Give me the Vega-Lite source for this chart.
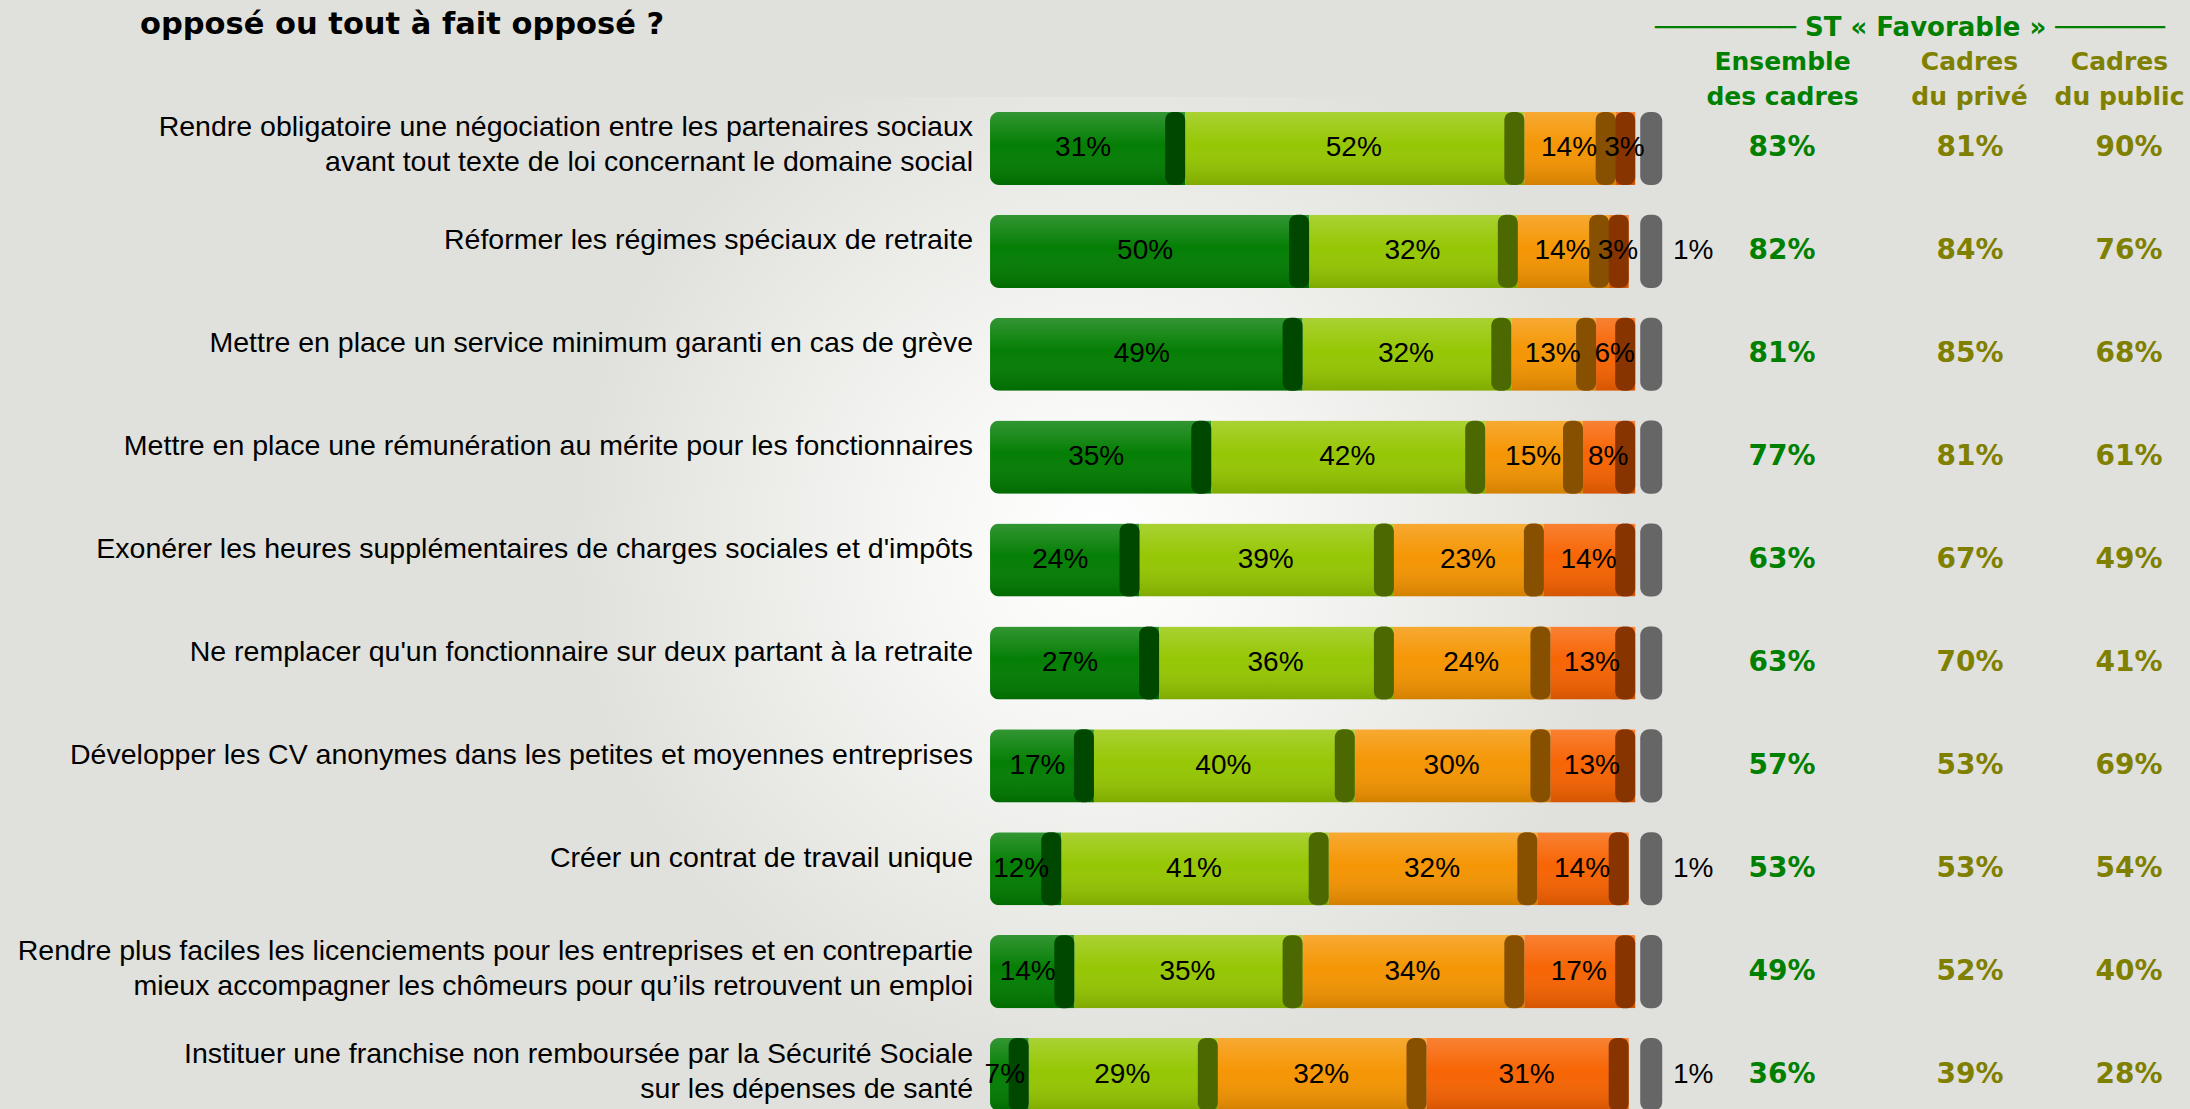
{
  "$schema": "https://vega.github.io/schema/vega-lite/v6.json",
  "background": "#e0e1dc",
  "padding": {"left": 0, "right": 0, "top": 9, "bottom": 0},
  "config": {"view": {"stroke": null}, "text": {"font": "Liberation Sans"}},
  "spacing": 0,
  "bounds": "flush",
  "resolve": {"scale": {"color": "independent", "x": "independent", "y": "independent"}},
  "datasets": {
    "questions": [
      {"id": 1, "q": "Rendre obligatoire une négociation entre les partenaires sociaux|avant tout texte de loi concernant le domaine social"},
      {"id": 2, "q": "Réformer les régimes spéciaux de retraite"},
      {"id": 3, "q": "Mettre en place un service minimum garanti en cas de grève"},
      {"id": 4, "q": "Mettre en place une rémunération au mérite pour les fonctionnaires"},
      {"id": 5, "q": "Exonérer les heures supplémentaires de charges sociales et d'impôts"},
      {"id": 6, "q": "Ne remplacer qu'un fonctionnaire sur deux partant à la retraite"},
      {"id": 7, "q": "Développer les CV anonymes dans les petites et moyennes entreprises"},
      {"id": 8, "q": "Créer un contrat de travail unique"},
      {"id": 9, "q": "Rendre plus faciles les licenciements pour les entreprises et en contrepartie|mieux accompagner les chômeurs pour qu’ils retrouvent un emploi"},
      {"id": 10, "q": "Instituer une franchise non remboursée par la Sécurité Sociale|sur les dépenses de santé"}
    ],
    "bars": [
      {"id": 1, "cat": "Tout à fait favorable", "code": 1, "v": 0.31},
      {"id": 1, "cat": "Plutôt favorable", "code": 2, "v": 0.52},
      {"id": 1, "cat": "Plutôt opposé", "code": 3, "v": 0.14},
      {"id": 1, "cat": "Tout à fait opposé", "code": 4, "v": 0.03},
      {"id": 1, "cat": "NSP", "code": 5, "v": 0},
      {"id": 2, "cat": "Tout à fait favorable", "code": 1, "v": 0.50},
      {"id": 2, "cat": "Plutôt favorable", "code": 2, "v": 0.32},
      {"id": 2, "cat": "Plutôt opposé", "code": 3, "v": 0.14},
      {"id": 2, "cat": "Tout à fait opposé", "code": 4, "v": 0.03},
      {"id": 2, "cat": "NSP", "code": 5, "v": 0.01},
      {"id": 3, "cat": "Tout à fait favorable", "code": 1, "v": 0.49},
      {"id": 3, "cat": "Plutôt favorable", "code": 2, "v": 0.32},
      {"id": 3, "cat": "Plutôt opposé", "code": 3, "v": 0.13},
      {"id": 3, "cat": "Tout à fait opposé", "code": 4, "v": 0.06},
      {"id": 3, "cat": "NSP", "code": 5, "v": 0},
      {"id": 4, "cat": "Tout à fait favorable", "code": 1, "v": 0.35},
      {"id": 4, "cat": "Plutôt favorable", "code": 2, "v": 0.42},
      {"id": 4, "cat": "Plutôt opposé", "code": 3, "v": 0.15},
      {"id": 4, "cat": "Tout à fait opposé", "code": 4, "v": 0.08},
      {"id": 4, "cat": "NSP", "code": 5, "v": 0},
      {"id": 5, "cat": "Tout à fait favorable", "code": 1, "v": 0.24},
      {"id": 5, "cat": "Plutôt favorable", "code": 2, "v": 0.39},
      {"id": 5, "cat": "Plutôt opposé", "code": 3, "v": 0.23},
      {"id": 5, "cat": "Tout à fait opposé", "code": 4, "v": 0.14},
      {"id": 5, "cat": "NSP", "code": 5, "v": 0},
      {"id": 6, "cat": "Tout à fait favorable", "code": 1, "v": 0.27},
      {"id": 6, "cat": "Plutôt favorable", "code": 2, "v": 0.36},
      {"id": 6, "cat": "Plutôt opposé", "code": 3, "v": 0.24},
      {"id": 6, "cat": "Tout à fait opposé", "code": 4, "v": 0.13},
      {"id": 6, "cat": "NSP", "code": 5, "v": 0},
      {"id": 7, "cat": "Tout à fait favorable", "code": 1, "v": 0.17},
      {"id": 7, "cat": "Plutôt favorable", "code": 2, "v": 0.40},
      {"id": 7, "cat": "Plutôt opposé", "code": 3, "v": 0.30},
      {"id": 7, "cat": "Tout à fait opposé", "code": 4, "v": 0.13},
      {"id": 7, "cat": "NSP", "code": 5, "v": 0},
      {"id": 8, "cat": "Tout à fait favorable", "code": 1, "v": 0.12},
      {"id": 8, "cat": "Plutôt favorable", "code": 2, "v": 0.41},
      {"id": 8, "cat": "Plutôt opposé", "code": 3, "v": 0.32},
      {"id": 8, "cat": "Tout à fait opposé", "code": 4, "v": 0.14},
      {"id": 8, "cat": "NSP", "code": 5, "v": 0.01},
      {"id": 9, "cat": "Tout à fait favorable", "code": 1, "v": 0.14},
      {"id": 9, "cat": "Plutôt favorable", "code": 2, "v": 0.35},
      {"id": 9, "cat": "Plutôt opposé", "code": 3, "v": 0.34},
      {"id": 9, "cat": "Tout à fait opposé", "code": 4, "v": 0.17},
      {"id": 9, "cat": "NSP", "code": 5, "v": 0},
      {"id": 10, "cat": "Tout à fait favorable", "code": 1, "v": 0.07},
      {"id": 10, "cat": "Plutôt favorable", "code": 2, "v": 0.29},
      {"id": 10, "cat": "Plutôt opposé", "code": 3, "v": 0.32},
      {"id": 10, "cat": "Tout à fait opposé", "code": 4, "v": 0.31},
      {"id": 10, "cat": "NSP", "code": 5, "v": 0.01}
    ],
    "fav": [
      {"id": 1, "group": "Ensemble des cadres", "pct": 0.83},
      {"id": 1, "group": "Cadres du privé", "pct": 0.81},
      {"id": 1, "group": "Cadres du public", "pct": 0.90},
      {"id": 2, "group": "Ensemble des cadres", "pct": 0.82},
      {"id": 2, "group": "Cadres du privé", "pct": 0.84},
      {"id": 2, "group": "Cadres du public", "pct": 0.76},
      {"id": 3, "group": "Ensemble des cadres", "pct": 0.81},
      {"id": 3, "group": "Cadres du privé", "pct": 0.85},
      {"id": 3, "group": "Cadres du public", "pct": 0.68},
      {"id": 4, "group": "Ensemble des cadres", "pct": 0.77},
      {"id": 4, "group": "Cadres du privé", "pct": 0.81},
      {"id": 4, "group": "Cadres du public", "pct": 0.61},
      {"id": 5, "group": "Ensemble des cadres", "pct": 0.63},
      {"id": 5, "group": "Cadres du privé", "pct": 0.67},
      {"id": 5, "group": "Cadres du public", "pct": 0.49},
      {"id": 6, "group": "Ensemble des cadres", "pct": 0.63},
      {"id": 6, "group": "Cadres du privé", "pct": 0.70},
      {"id": 6, "group": "Cadres du public", "pct": 0.41},
      {"id": 7, "group": "Ensemble des cadres", "pct": 0.57},
      {"id": 7, "group": "Cadres du privé", "pct": 0.53},
      {"id": 7, "group": "Cadres du public", "pct": 0.69},
      {"id": 8, "group": "Ensemble des cadres", "pct": 0.53},
      {"id": 8, "group": "Cadres du privé", "pct": 0.53},
      {"id": 8, "group": "Cadres du public", "pct": 0.54},
      {"id": 9, "group": "Ensemble des cadres", "pct": 0.49},
      {"id": 9, "group": "Cadres du privé", "pct": 0.52},
      {"id": 9, "group": "Cadres du public", "pct": 0.40},
      {"id": 10, "group": "Ensemble des cadres", "pct": 0.36},
      {"id": 10, "group": "Cadres du privé", "pct": 0.39},
      {"id": 10, "group": "Cadres du public", "pct": 0.28}
    ]
  },
  "hconcat": [
    {
      "width": 1652,
      "height": 1013,
      "view": {
        "stroke": null,
        "fill": {"gradient": "radial", "x1": 0.666, "y1": 0.463, "r1": 0, "x2": 0.666, "y2": 0.463, "r2": 0.32,
          "stops": [{"offset": 0, "color": "#ffffff"}, {"offset": 0.35, "color": "#f6f6f4"}, {"offset": 1, "color": "#e0e1dc"}]}
      },
      "title": {"text": "opposé ou tout à fait opposé ?", "anchor": "start", "frame": "group", "dx": 140, "offset": 57,
        "font": "DejaVu Sans", "fontSize": 30.5, "fontWeight": "bold", "color": "#000000"},
      "data": {"name": "bars"},
      "transform": [{"lookup": "id", "from": {"data": {"name": "questions"}, "key": "id", "fields": ["q"]}}],
      "encoding": {
        "y": {"field": "q", "type": "nominal", "sort": null, "axis": null,
          "scale": {"range": [0, 1029], "paddingInner": 0.29, "paddingOuter": 0.145}}
      },
      "layer": [
        {
          "transform": [{"filter": "datum.code <= 4"}],
          "mark": {"type": "bar", "cornerRadius": 9, "xOffset": -7},
          "encoding": {
            "x": {"field": "v", "type": "quantitative", "stack": "zero", "axis": null,
              "scale": {"domain": [-1.518, 1.015], "nice": false, "zero": false}},
            "order": {"field": "code"},
            "color": {"field": "cat", "type": "nominal", "legend": null,
              "scale": {"domain": ["Tout à fait favorable", "Plutôt favorable", "Plutôt opposé", "Tout à fait opposé"],
                "range": ["#007c00", "#94c600", "#f59400", "#f76200"]}}
          }
        },
        {
          "transform": [{"filter": "datum.code <= 4"}],
          "mark": {"type": "bar", "cornerRadius": 9, "xOffset": -7,
            "fill": {"gradient": "linear", "x1": 0, "y1": 0, "x2": 0, "y2": 1,
              "stops": [{"offset": 0, "color": "rgba(255,255,255,0.2)"}, {"offset": 0.45, "color": "rgba(255,255,255,0.02)"}, {"offset": 1, "color": "rgba(0,0,0,0.14)"}]}},
          "encoding": {
            "x": {"field": "v", "type": "quantitative", "stack": "zero"},
            "order": {"field": "code"},
            "detail": {"field": "cat"}
          }
        },
        {
          "transform": [{"filter": "datum.code <= 4"}],
          "mark": {"type": "tick", "thickness": 20, "size": 73, "xOffset": -17, "opacity": 1, "cornerRadius": 8},
          "encoding": {
            "x": {"field": "v", "type": "quantitative", "stack": "zero"},
            "order": {"field": "code"},
            "fill": {"field": "cat", "type": "nominal", "legend": null,
              "scale": {"domain": ["Tout à fait favorable", "Plutôt favorable", "Plutôt opposé", "Tout à fait opposé"],
                "range": ["#004800", "#4c6800", "#875000", "#883400"]}}
          }
        },
        {
          "transform": [{"filter": "datum.code == 5"}],
          "mark": {"type": "bar", "cornerRadius": 9, "xOffset": -2, "x2Offset": 20, "color": "#666666"},
          "encoding": {
            "x": {"datum": 1, "type": "quantitative"},
            "x2": {"datum": 1}
          }
        },
        {
          "transform": [{"filter": "datum.code <= 4"}],
          "mark": {"type": "text", "align": "center", "baseline": "middle", "fontSize": 28, "xOffset": -8, "color": "#000000"},
          "encoding": {
            "x": {"field": "v", "type": "quantitative", "stack": "zero", "bandPosition": 0.5},
            "order": {"field": "code"},
            "detail": {"field": "cat"},
            "text": {"field": "v", "type": "quantitative", "format": ".0%"}
          }
        },
        {
          "transform": [{"filter": "datum.code == 5 && datum.v > 0"}],
          "mark": {"type": "text", "align": "center", "baseline": "middle", "fontSize": 28, "dx": 51, "color": "#000000"},
          "encoding": {
            "x": {"datum": 1, "type": "quantitative"},
            "text": {"field": "v", "type": "quantitative", "format": ".0%"}
          }
        },
        {
          "transform": [{"filter": "datum.code == 1 && indexof(datum.q, '|') < 0"}],
          "mark": {"type": "text", "align": "right", "baseline": "middle", "dx": -17, "dy": -11, "fontSize": 28.5, "lineBreak": "|", "lineHeight": 35, "color": "#000000"},
          "encoding": {
            "x": {"datum": 0, "type": "quantitative"},
            "text": {"field": "q"}
          }
        },
        {
          "transform": [{"filter": "datum.code == 1 && indexof(datum.q, '|') >= 0"}],
          "mark": {"type": "text", "align": "right", "baseline": "middle", "dx": -17, "dy": -21, "fontSize": 28.5, "lineBreak": "|", "lineHeight": 35, "color": "#000000"},
          "encoding": {
            "x": {"datum": 0, "type": "quantitative"},
            "text": {"field": "q"}
          }
        }
      ]
    },
    {
      "width": 538,
      "height": 1013,
      "data": {"name": "fav"},
      "transform": [{"lookup": "id", "from": {"data": {"name": "questions"}, "key": "id", "fields": ["q"]}}],
      "title": {"text": "─────────  ST « Favorable »  ───────", "anchor": "middle", "offset": 8, "dx": -11,
        "font": "DejaVu Sans", "fontSize": 26, "fontWeight": "bold", "color": "#008000"},
      "encoding": {
        "y": {"field": "q", "type": "nominal", "sort": null, "axis": null,
          "scale": {"range": [0, 1029], "paddingInner": 0.29, "paddingOuter": 0.145}},
        "x": {"field": "group", "type": "nominal",
          "sort": ["Ensemble des cadres", "Cadres du privé", "Cadres du public"],
          "scale": {"type": "point", "range": [130, 476], "padding": 0},
          "axis": {"orient": "top", "title": null, "domain": false, "ticks": false, "tickSize": 0, "labelAngle": 0,
            "labelFont": "DejaVu Sans", "labelFontWeight": "bold", "labelFontSize": 25, "labelLineHeight": 35,
            "labelPadding": 23, "labelAlign": "center",
            "labelOffset": {"condition": [{"test": "datum.value == 'Cadres du privé'", "value": 14}, {"test": "datum.value == 'Cadres du public'", "value": -9}], "value": 0},
            "labelExpr": "datum.value == 'Ensemble des cadres' ? ['Ensemble', 'des cadres'] : ['Cadres', slice(datum.value, 7)]",
            "labelColor": {"condition": {"test": "datum.value == 'Ensemble des cadres'", "value": "#008000"}, "value": "#808000"}}},
        "text": {"field": "pct", "type": "quantitative", "format": ".0%"}
      },
      "layer": [
        {
          "transform": [{"filter": "datum.group == 'Ensemble des cadres'"}],
          "mark": {"type": "text", "font": "DejaVu Sans", "fontWeight": "bold", "fontSize": 28, "baseline": "middle", "color": "#008000"}
        },
        {
          "transform": [{"filter": "datum.group == 'Cadres du privé'"}],
          "mark": {"type": "text", "font": "DejaVu Sans", "fontWeight": "bold", "fontSize": 28, "baseline": "middle", "color": "#808000", "dx": 15}
        },
        {
          "transform": [{"filter": "datum.group == 'Cadres du public'"}],
          "mark": {"type": "text", "font": "DejaVu Sans", "fontWeight": "bold", "fontSize": 28, "baseline": "middle", "color": "#808000", "dx": 1}
        }
      ]
    }
  ]
}
